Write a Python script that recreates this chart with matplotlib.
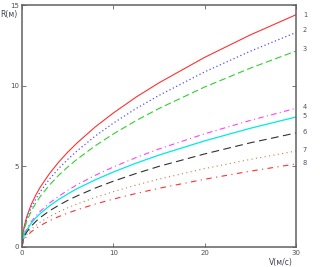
import matplotlib
matplotlib.use('Agg')
import matplotlib.pyplot as plt
import matplotlib.transforms as mtransforms

# speed V (m/s) sampled along the curves
v = [0, 0.1, 0.25, 0.5, 1, 1.5, 2, 3, 4, 5, 6, 8, 10, 12.5, 15, 20, 25, 30]

# radius R (m) for each curve
r1 = [0, 0.83, 1.31, 1.86, 2.63, 3.22, 3.72, 4.55, 5.26, 5.88, 6.44, 7.44, 8.31, 9.30, 10.18, 11.76, 13.15, 14.40]
r2 = [0, 0.77, 1.21, 1.72, 2.43, 2.97, 3.43, 4.21, 4.86, 5.43, 5.95, 6.87, 7.68, 8.59, 9.40, 10.86, 12.14, 13.30]
r3 = [0, 0.70, 1.11, 1.57, 2.22, 2.72, 3.14, 3.84, 4.44, 4.96, 5.43, 6.27, 7.01, 7.84, 8.59, 9.92, 11.09, 12.15]
r4 = [0, 0.50, 0.79, 1.11, 1.57, 1.92, 2.22, 2.72, 3.14, 3.51, 3.85, 4.44, 4.96, 5.55, 6.08, 7.02, 7.85, 8.60]
r5 = [0, 0.47, 0.74, 1.04, 1.47, 1.80, 2.08, 2.55, 2.94, 3.29, 3.61, 4.16, 4.65, 5.20, 5.70, 6.58, 7.36, 8.06]
r6 = [0, 0.41, 0.65, 0.91, 1.29, 1.58, 1.83, 2.24, 2.58, 2.89, 3.16, 3.65, 4.08, 4.56, 5.00, 5.77, 6.46, 7.07]
r7 = [0, 0.34, 0.54, 0.77, 1.09, 1.33, 1.54, 1.88, 2.17, 2.43, 2.66, 3.07, 3.43, 3.84, 4.21, 4.86, 5.43, 5.95]
r8 = [0, 0.30, 0.47, 0.66, 0.94, 1.15, 1.33, 1.63, 1.88, 2.10, 2.30, 2.66, 2.97, 3.32, 3.64, 4.20, 4.70, 5.15]

curve_names = ['1', '2', '3', '4', '5', '6', '7', '8']
label_y = [14.4, 13.45, 12.3, 8.65, 8.1, 7.1, 6.0, 5.2]

fig = plt.figure(figsize=(3.2, 2.67), dpi=100)
ax = fig.add_axes([0.069, 0.075, 0.856, 0.906])

ax.plot(v, r1, color='#ff3030', lw=0.8, ls='-')
ax.plot(v, r2, color='#5050ff', lw=0.9, ls=(0, (1, 2)))
ax.plot(v, r3, color='#30d030', lw=0.8, ls=(0, (6, 3)))
ax.plot(v, r4, color='#ff40ff', lw=0.8, ls=(0, (5, 3, 1, 3)))
ax.plot(v, r5, color='#00e8e8', lw=0.9, ls='-')
ax.plot(v, r6, color='#303030', lw=0.8, ls=(0, (7, 4)))
ax.plot(v, r7, color='#c08050', lw=0.8, ls=(0, (1, 3)))
ax.plot(v, r8, color='#ff3030', lw=0.8, ls=(0, (5, 4, 1, 4)))

ax.set_xlim(0, 30)
ax.set_ylim(0, 15)
ax.set_xticks([0, 10, 20, 30])
ax.set_yticks([0, 5, 10, 15])
ax.tick_params(direction='in', length=3, width=0.6, colors='#606060',
               labelsize=5, labelcolor='#505050', top=True, right=True, pad=2)
for s in ax.spines.values():
    s.set_color('#606060')
    s.set_linewidth(1.1)

# curve numbers at the right edge
trans = mtransforms.blended_transform_factory(ax.transAxes, ax.transData)
for name, yy in zip(curve_names, label_y):
    ax.text(1.025, yy, name, transform=trans, fontsize=4.8, color='#505060',
            ha='left', va='center')

ax.text(-0.015, 14.4, 'R(м)', transform=trans, fontsize=5.5, color='#404050',
        ha='right', va='center')
ax.text(0.99, -0.045, 'V(м/с)', transform=ax.transAxes, fontsize=5.5,
        color='#404050', ha='right', va='top')

fig.savefig('out.png', dpi=100)
